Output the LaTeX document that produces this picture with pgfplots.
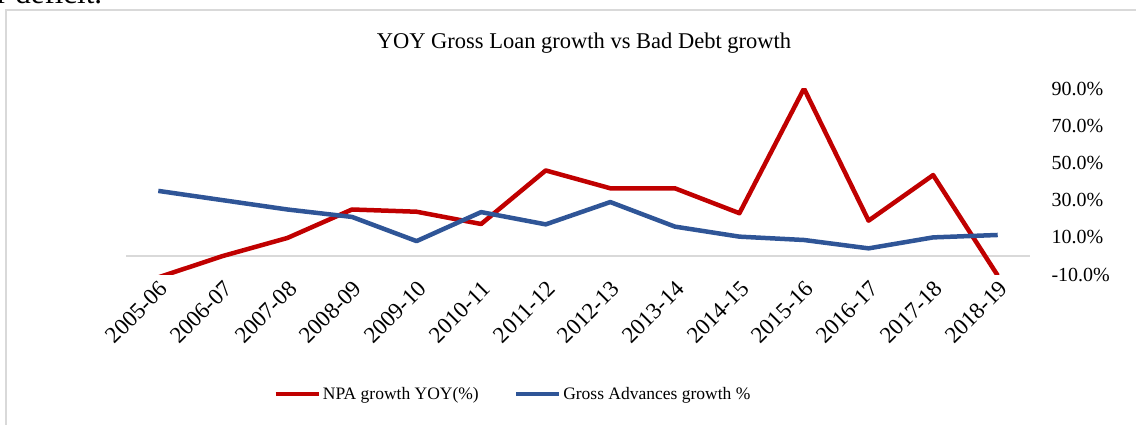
\documentclass[border=0pt]{standalone}
\usepackage{fontspec}
\setmainfont{Liberation Serif}
\usepackage{pgfplots}
\pgfplotsset{compat=1.18}
\definecolor{npared}{HTML}{C00000}
\definecolor{advblue}{HTML}{2F5597}
\begin{document}
\begin{tikzpicture}[x=1pt,y=1pt]
\useasboundingbox (0,0) rectangle (1136,425);
\begin{scope}
\clip (0,0) rectangle (1136,425);
\node[anchor=base west, inner sep=0pt, font=\fontsize{31}{34}\selectfont] at (-3,421) {r deficit.};
\end{scope}
\draw[gray!30, line width=2pt] (6,0) -- (6,415) -- (1136,415);
\node[font=\fontsize{22.5}{26}\selectfont] at (584,382) {YOY Gross Loan growth vs Bad Debt growth};
\begin{axis}[
  at={(126pt,150.4pt)}, anchor=south west,
  scale only axis, width=904pt, height=186pt,
  xmin=-0.5, xmax=13.5, ymin=-10, ymax=90,
  axis line style={draw=none},
  tick style={draw=none},
  major tick length=0pt,
  xtick={0,...,13},
  xticklabels={2005-06,2006-07,2007-08,2008-09,2009-10,2010-11,2011-12,2012-13,2013-14,2014-15,2015-16,2016-17,2017-18,2018-19},
  xticklabel style={rotate=45, anchor=north east, font=\fontsize{23}{26}\selectfont},
  ytick={-10,10,30,50,70,90},
  yticklabels={-10.0\%,10.0\%,30.0\%,50.0\%,70.0\%,90.0\%},
  yticklabel pos=right,
  yticklabel style={anchor=west, xshift=18pt, font=\fontsize{20}{23}\selectfont},
  extra y ticks={0},
  extra y tick labels={},
  extra y tick style={grid=major, major grid style={draw=gray!30, line width=1.5pt}},
  legend style={at={(0.428,-0.642)}, anchor=center, draw=none, fill=none, legend columns=2, font=\fontsize{17.5}{20}\selectfont,
    /tikz/every even column/.append style={column sep=33pt}},
  legend image code/.code={\draw[#1] (0pt,0pt) -- (43pt,0pt);},
  clip=true,
]
\addplot[npared, line width=4.5pt, line join=round] coordinates {
(0,-11.5) (1,0) (2,9.7) (3,25) (4,23.8) (5,17.2) (6,46) (7,36.4) (8,36.4) (9,23) (10,90) (11,19) (12,43.5) (13,-10.5)};
\addlegendentry{NPA growth YOY(\%)}
\addplot[advblue, line width=4.5pt, line join=round] coordinates {
(0,35) (1,30) (2,25) (3,21) (4,8) (5,23.6) (6,17) (7,29) (8,15.8) (9,10.4) (10,8.6) (11,4.1) (12,10) (13,11.3)};
\addlegendentry{Gross Advances growth \%}
\end{axis}
\end{tikzpicture}
\end{document}
